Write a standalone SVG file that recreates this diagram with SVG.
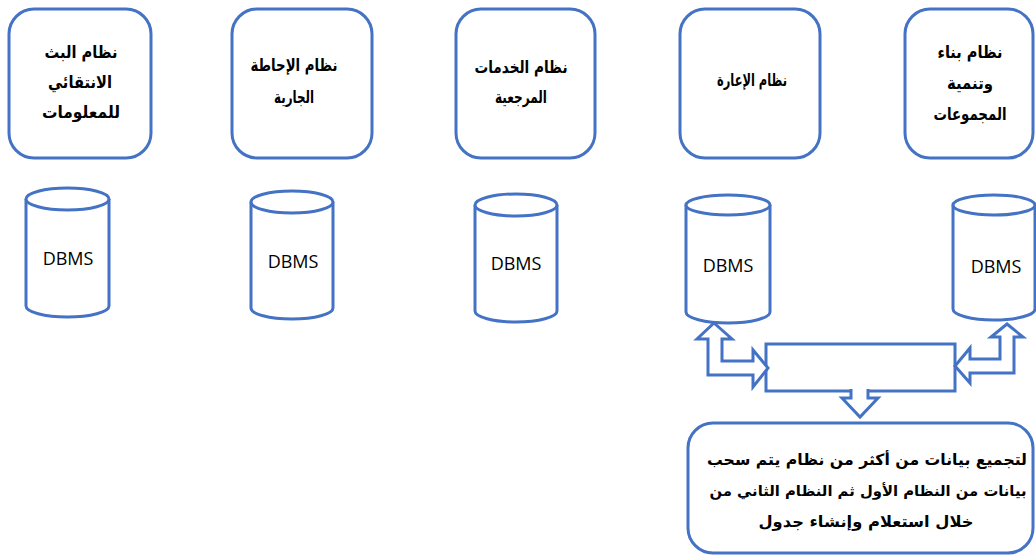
<svg xmlns="http://www.w3.org/2000/svg" width="1036" height="559" viewBox="0 0 1036 559">
  <style>
    .box { fill: #ffffff; stroke: #4472C4; stroke-width: 3; }
    .db { fill: #ffffff; stroke: #4472C4; stroke-width: 3; }
    .arrow { fill: #ffffff; stroke: #4472C4; stroke-width: 3; stroke-linejoin: miter; }
    .lbl { font-family: "DejaVu Sans", "Noto Sans", sans-serif; font-size: 17px; font-weight: bold; fill: #000000; text-anchor: middle; dominant-baseline: central; }
    .note { font-family: "DejaVu Sans", "Noto Sans", sans-serif; font-size: 15.5px; font-weight: bold; fill: #000000; text-anchor: middle; dominant-baseline: central; }
    .dbms { font-family: "Open Sans", "Liberation Sans", sans-serif; font-size: 18px; fill: #000000; text-anchor: middle; dominant-baseline: central; }
  </style>
  <rect width="1036" height="559" fill="#ffffff"/>

  <!-- system boxes -->
  <g id="sys-sdi">
    <rect class="box" x="9" y="9" width="142" height="149" rx="25"/>
    <text class="lbl" x="81" y="52" direction="rtl" textLength="73" lengthAdjust="spacingAndGlyphs">نظام البث</text>
    <text class="lbl" x="80" y="82" direction="rtl" textLength="64" lengthAdjust="spacingAndGlyphs">الانتقائي</text>
    <text class="lbl" x="81" y="112" direction="rtl" textLength="78" lengthAdjust="spacingAndGlyphs">للمعلومات</text>
  </g>
  <g id="sys-current-awareness">
    <rect class="box" x="232" y="9" width="140" height="149" rx="25"/>
    <text class="lbl" x="294" y="65" direction="rtl" textLength="87" lengthAdjust="spacingAndGlyphs">نظام الإحاطة</text>
    <text class="lbl" x="294" y="97" direction="rtl" textLength="40" lengthAdjust="spacingAndGlyphs">الجارية</text>
  </g>
  <g id="sys-reference">
    <rect class="box" x="456" y="9" width="139" height="149" rx="25"/>
    <text class="lbl" x="521" y="67" direction="rtl" textLength="93" lengthAdjust="spacingAndGlyphs">نظام الخدمات</text>
    <text class="lbl" x="521" y="97" direction="rtl" textLength="52" lengthAdjust="spacingAndGlyphs">المرجعية</text>
  </g>
  <g id="sys-circulation">
    <rect class="box" x="680" y="9" width="140" height="149" rx="25"/>
    <text class="lbl" x="752" y="80" direction="rtl" textLength="70" lengthAdjust="spacingAndGlyphs">نظام الإعارة</text>
  </g>
  <g id="sys-collections">
    <rect class="box" x="905" y="9" width="128" height="149" rx="25"/>
    <text class="lbl" x="970" y="52" direction="rtl" textLength="65" lengthAdjust="spacingAndGlyphs">نظام بناء</text>
    <text class="lbl" x="970" y="83" direction="rtl" textLength="46" lengthAdjust="spacingAndGlyphs">وتنمية</text>
    <text class="lbl" x="970" y="114" direction="rtl" textLength="73" lengthAdjust="spacingAndGlyphs">المجموعات</text>
  </g>

  <!-- databases -->
  <g id="db-1">
    <path class="db" d="M26,199 L26,306 A41.5,11 0 0 0 109,306 L109,199"/>
    <ellipse class="db" cx="67.5" cy="199" rx="41.5" ry="11"/>
    <text class="dbms" x="68" y="258">DBMS</text>
  </g>
  <g id="db-2">
    <path class="db" d="M251,202 L251,308 A41,11 0 0 0 333,308 L333,202"/>
    <ellipse class="db" cx="292" cy="202" rx="41" ry="11"/>
    <text class="dbms" x="293" y="261">DBMS</text>
  </g>
  <g id="db-3">
    <path class="db" d="M475,205 L475,311 A41,11 0 0 0 557,311 L557,205"/>
    <ellipse class="db" cx="516" cy="205" rx="41" ry="11"/>
    <text class="dbms" x="516" y="263">DBMS</text>
  </g>
  <g id="db-4">
    <path class="db" d="M686,205 L686,312 A42,11 0 0 0 770,312 L770,205"/>
    <ellipse class="db" cx="728" cy="205" rx="42" ry="10"/>
    <text class="dbms" x="728" y="265">DBMS</text>
  </g>
  <g id="db-5">
    <path class="db" d="M953,205 L953,309 A41,11 0 0 0 1035,309 L1035,205"/>
    <ellipse class="db" cx="994" cy="205" rx="41" ry="10"/>
    <text class="dbms" x="996" y="266">DBMS</text>
  </g>

  <!-- query box and result note -->
  <g id="query">
    <rect class="box" x="766" y="344" width="189" height="47"/>
  </g>
  <g id="note">
    <rect class="box" x="688" y="423" width="345" height="130" rx="25"/>
    <text class="note" x="867" y="460" direction="rtl" textLength="320" lengthAdjust="spacingAndGlyphs">لتجميع بيانات من أكثر من نظام يتم سحب</text>
    <text class="note" x="868" y="491" direction="rtl" style="font-size:14.5px" textLength="317" lengthAdjust="spacingAndGlyphs">بيانات من النظام الأول ثم النظام الثاني من</text>
    <text class="note" x="866" y="522" direction="rtl" textLength="215" lengthAdjust="spacingAndGlyphs">خلال استعلام وإنشاء جدول</text>
  </g>

  <!-- block arrows -->
  <g id="connectors">
    <path class="arrow" d="M714,323 L732,339 L722,339 L722,361 L753,361 L753,350 L768,368 L753,387 L753,375 L708,375 L708,339 L697,339 Z"/>
    <path class="arrow" d="M1007,324 L1023,337 L1014,337 L1014,373 L970,373 L970,383 L955,366 L970,348 L970,359 L1000,359 L1000,337 L991,337 Z"/>
    <path class="arrow" d="M851,389 L851,398 L842,398 L860,417 L878,398 L868,398 L868,389"/>
  </g>
</svg>
